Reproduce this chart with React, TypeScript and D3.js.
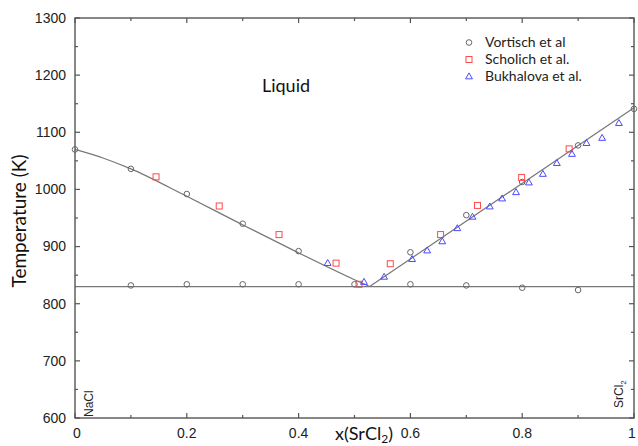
import React from 'react';
import * as d3 from 'd3';

// Vortisch et al (liquidus + solidus)
const vortischX = [0, 0.1, 0.2, 0.3, 0.4, 0.5, 0.6, 0.7, 0.8, 0.9, 1.0, 0.1, 0.2, 0.3, 0.4, 0.6, 0.7, 0.8, 0.9];
const vortischT = [1070, 1036, 992, 940, 892, 834, 890, 955, 1013, 1077, 1141, 832, 834, 834, 834, 834, 832, 828, 824];

// Scholich et al.
const scholichX = [0.145, 0.258, 0.365, 0.467, 0.508, 0.564, 0.654, 0.72, 0.799, 0.884];
const scholichT = [1022, 971, 921, 871, 834, 870, 921, 972, 1021, 1071];

// Bukhalova et al.
const bukhalovaX = [0.452, 0.517, 0.553, 0.603, 0.63, 0.657, 0.684, 0.711, 0.742, 0.764, 0.789, 0.812, 0.837, 0.862, 0.889, 0.915, 0.943, 0.973];
const bukhalovaT = [871, 838, 847, 878, 893, 909, 932, 952, 970, 984, 995, 1012, 1027, 1046, 1062, 1081, 1090, 1116];

// Calculated liquidus
const liqLeftX = [0, 0.05, 0.1, 0.2, 0.3, 0.4, 0.5, 0.527];
const liqLeftT = [1070, 1055, 1036, 988, 938, 889, 842, 830];
const liqRightX = [0.527, 1.0];
const liqRightT = [830, 1143];
const eutecticT = 830;

const yTicks = [600, 700, 800, 900, 1000, 1100, 1200, 1300];
const yMinor = [650, 750, 850, 950, 1050, 1150, 1250];
const xTicks = [0, 0.2, 0.4, 0.6, 0.8, 1];
const xTickLabels = ['0', '0.2', '0.4', '0.6', '0.8', '1'];
const xMinor = [0.1, 0.3, 0.5, 0.7, 0.9];

const legendLabels = ['Vortisch et al', 'Scholich et al.', 'Bukhalova et al.'];

const W = 638, H = 446;
const L = 75, R = 634, T = 18, B = 418;

export default function App() {
  const x = d3.scaleLinear().domain([0, 1]).range([L, R]);
  const y = d3.scaleLinear().domain([600, 1300]).range([B, T]);
  const line = d3.line<[number, number]>().x(d => x(d[0])).y(d => y(d[1]));
  const leftPath = d3.line<[number, number]>().x(d => x(d[0])).y(d => y(d[1])).curve(d3.curveMonotoneX)(
    liqLeftX.map((v, i) => [v, liqLeftT[i]] as [number, number])
  );
  const rightPath = line(liqRightX.map((v, i) => [v, liqRightT[i]] as [number, number]));

  const frame = '#555';
  const red = '#ff4a4a';
  const blue = '#4a4aff';
  const gray = '#666';

  const tri = (cx: number, cy: number, s: number) =>
    `M${cx},${cy - s} L${cx + s * 0.95},${cy + s * 0.65} L${cx - s * 0.95},${cy + s * 0.65} Z`;

  return (
    <svg width={W} height={H} style={{ position: 'absolute', left: 0, top: 0, background: '#fff' }}>
      {/* liquidus / eutectic lines */}
      <path d={leftPath || ''} fill="none" stroke="#777" strokeWidth={1.2} />
      <path d={rightPath || ''} fill="none" stroke="#777" strokeWidth={1.2} />
      <line x1={x(0)} x2={x(1)} y1={y(eutecticT)} y2={y(eutecticT)} stroke="#777" strokeWidth={1.2} />

      {/* frame */}
      <rect x={L} y={T} width={R - L} height={B - T} fill="none" stroke={frame} strokeWidth={1.4} />

      {/* y ticks */}
      {yTicks.map(t => (
        <g key={'y' + t}>
          <line x1={L} x2={L + 5} y1={y(t)} y2={y(t)} stroke={frame} strokeWidth={1.2} />
          <line x1={R} x2={R - 5} y1={y(t)} y2={y(t)} stroke={frame} strokeWidth={1.2} />
          <text x={L - 9} y={y(t)} dy="0.35em" textAnchor="end" fontFamily="Liberation Sans, Arial" fontSize={14} fill="#222">{t}</text>
        </g>
      ))}
      {yMinor.map(t => (
        <g key={'ym' + t}>
          <line x1={L} x2={L + 3} y1={y(t)} y2={y(t)} stroke={frame} strokeWidth={1.2} />
          <line x1={R} x2={R - 3} y1={y(t)} y2={y(t)} stroke={frame} strokeWidth={1.2} />
        </g>
      ))}
      {/* x ticks */}
      {xTicks.map((t, i) => (
        <g key={'x' + t}>
          <line x1={x(t)} x2={x(t)} y1={B} y2={B - 5} stroke={frame} strokeWidth={1.2} />
          <line x1={x(t)} x2={x(t)} y1={T} y2={T + 5} stroke={frame} strokeWidth={1.2} />
          <text x={x(t) + (i === 0 ? 2 : i === xTicks.length - 1 ? -2 : 0)} y={438} textAnchor="middle" fontFamily="Liberation Sans, Arial" fontSize={14} fill="#222">{xTickLabels[i]}</text>
        </g>
      ))}
      {xMinor.map(t => (
        <g key={'xm' + t}>
          <line x1={x(t)} x2={x(t)} y1={B} y2={B - 3} stroke={frame} strokeWidth={1.2} />
          <line x1={x(t)} x2={x(t)} y1={T} y2={T + 3} stroke={frame} strokeWidth={1.2} />
        </g>
      ))}

      {/* data */}
      {vortischX.map((v, i) => (
        <circle key={'v' + i} cx={x(v)} cy={y(vortischT[i])} r={2.8} fill="none" stroke={gray} strokeWidth={1} />
      ))}
      {scholichX.map((v, i) => (
        <rect key={'s' + i} x={x(v) - 3} y={y(scholichT[i]) - 3} width={6} height={6} fill="none" stroke={red} strokeWidth={1} />
      ))}
      {bukhalovaX.map((v, i) => (
        <path key={'b' + i} d={tri(x(v), y(bukhalovaT[i]), 3.6)} fill="none" stroke={blue} strokeWidth={1} />
      ))}

      {/* legend */}
      <circle cx={469} cy={42.5} r={2.8} fill="none" stroke={gray} strokeWidth={1} />
      <rect x={466} y={56.5} width={6} height={6} fill="none" stroke={red} strokeWidth={1} />
      <path d={tri(469, 76.5, 3.6)} fill="none" stroke={blue} strokeWidth={1} />
      {legendLabels.map((s, i) => (
        <text key={s} x={485} y={47 + i * 17.2} fontFamily="Lato" fontSize={14} fill="#222">{s}</text>
      ))}

      {/* annotations */}
      <text x={286} y={92} textAnchor="middle" fontFamily="Lato" fontSize={18} fill="#111">Liquid</text>
      <text transform={`translate(93,417) rotate(-90)`} fontFamily="Liberation Sans, Arial" fontSize={12} fill="#222">NaCl</text>
      <text transform={`translate(623,408) rotate(-90)`} fontFamily="Liberation Sans, Arial" fontSize={12} fill="#222">
        SrCl<tspan fontSize={8} dy={3}>2</tspan>
      </text>

      {/* axis titles */}
      <text x={364} y={440} textAnchor="middle" fontFamily="Lato" fontSize={18} fill="#111">
        x(SrCl<tspan fontSize={12} dy={3}>2</tspan><tspan dy={-3}>)</tspan>
      </text>
      <text transform={`translate(26,221) rotate(-90)`} textAnchor="middle" fontFamily="Lato" fontSize={19} fill="#111">Temperature (K)</text>
    </svg>
  );
}
